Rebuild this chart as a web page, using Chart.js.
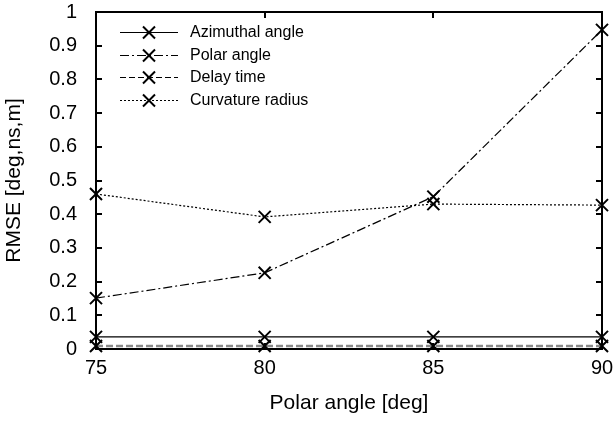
<!DOCTYPE html>
<html>
<head>
<meta charset="utf-8">
<script src="https://cdn.jsdelivr.net/npm/chart.js@4"></script>
<style>
  html, body { margin: 0; padding: 0; background: #fff; }
  #wrap { width: 615px; height: 422px; }
</style>
</head>
<body>
<div id="wrap"><canvas id="grafica"></canvas></div>
<script>
'use strict';

// datos
const polarAngles   = [75, 80, 85, 90];
const azimuthal     = [0.036, 0.036, 0.036, 0.036];
const polar         = [0.151, 0.226, 0.452, 0.947];
const delayTime     = [0.009, 0.009, 0.009, 0.009];
const curvature     = [0.460, 0.392, 0.430, 0.427];
const yTicks        = [0, 0.1, 0.2, 0.3, 0.4, 0.5, 0.6, 0.7, 0.8, 0.9, 1];

const FONT = "'Liberation Sans', Arial, sans-serif";

function serie(label, data, color, width, dash, legendDash) {
  return {
    label,
    data: polarAngles.map((x, i) => ({ x, y: data[i] })),
    borderColor: color,
    borderWidth: width,
    borderDash: dash,
    legendDash,
    pointStyle: 'crossRot',
    pointRadius: 8.5,
    pointBorderColor: '#000',
    pointBorderWidth: 2,
    pointBackgroundColor: '#000',
    tension: 0,
    fill: false,
    clip: false,
  };
}

// caja + marcas hacia dentro, y leyenda con linea y marcador
const marcoPlugin = {
  id: 'marco',
  afterDraw(chart) {
    const { ctx, chartArea: a, scales } = chart;
    ctx.save();
    ctx.strokeStyle = '#000';
    ctx.lineWidth = 2;
    ctx.strokeRect(a.left, a.top, a.right - a.left, a.bottom - a.top);
    ctx.beginPath();
    yTicks.forEach(v => {
      const y = Math.round(scales.y.getPixelForValue(v));
      ctx.moveTo(a.left, y);  ctx.lineTo(a.left + 6, y);
      ctx.moveTo(a.right, y); ctx.lineTo(a.right - 6, y);
    });
    polarAngles.forEach(v => {
      const x = Math.round(scales.x.getPixelForValue(v));
      ctx.moveTo(x, a.top);    ctx.lineTo(x, a.top + 6);
      ctx.moveTo(x, a.bottom); ctx.lineTo(x, a.bottom - 6);
    });
    ctx.stroke();

    // leyenda
    ctx.font = '16px ' + FONT;
    ctx.textBaseline = 'middle';
    chart.data.datasets.forEach((ds, i) => {
      const y = Math.round(32 + i * 22.7) + 0.5;
      ctx.strokeStyle = '#000';
      ctx.lineWidth = 1;
      ctx.setLineDash(ds.legendDash);
      ctx.beginPath();
      ctx.moveTo(120, y); ctx.lineTo(178, y);
      ctx.stroke();
      ctx.setLineDash([]);
      ctx.lineWidth = 2;
      ctx.beginPath();
      ctx.moveTo(143, y - 6); ctx.lineTo(155, y + 6);
      ctx.moveTo(143, y + 6); ctx.lineTo(155, y - 6);
      ctx.stroke();
      ctx.fillStyle = '#000';
      ctx.fillText(ds.label, 190, y);
    });
    ctx.restore();
  }
};

new Chart(document.getElementById('grafica'), {
  type: 'line',
  data: {
    datasets: [
      serie('Azimuthal angle',  azimuthal, '#000', 1.2, [], []),
      serie('Polar angle',      polar,     '#000', 1.2, [9, 3, 2, 3], [9, 3, 2, 3]),
      serie('Delay time',       delayTime, '#8a8a8a', 2.5, [7, 3], [6, 3]),
      serie('Curvature radius', curvature, '#000', 1.2, [2, 2], [2, 2]),
    ]
  },
  options: {
    responsive: true,
    maintainAspectRatio: false,
    animation: false,
    layout: { autoPadding: false, padding: { top: 12, right: 13, left: 0, bottom: 0 } },
    plugins: {
      legend: { display: false },
      tooltip: { enabled: false },
    },
    scales: {
      x: {
        type: 'linear',
        min: 75, max: 90,
        afterBuildTicks: s => { s.ticks = polarAngles.map(v => ({ value: v })); },
        afterFit: s => { s.height = 73; s.paddingLeft = 0; s.paddingRight = 0; },
        grid: { display: false, drawTicks: false },
        border: { display: false },
        ticks: { color: '#000', font: { family: FONT, size: 20 }, padding: 7 },
        title: { display: true, text: 'Polar angle [deg]', color: '#000',
                 font: { family: FONT, size: 21 }, padding: { top: 4, bottom: 6 } },
      },
      y: {
        min: 0, max: 1,
        afterBuildTicks: s => { s.ticks = yTicks.map(v => ({ value: v })); },
        afterFit: s => { s.width = 96; s.paddingTop = 0; s.paddingBottom = 0; },
        grid: { display: false, drawTicks: false },
        border: { display: false },
        ticks: { color: '#000', font: { family: FONT, size: 20 }, padding: 19,
                 callback: v => String(Math.round(v * 10) / 10) },
        title: { display: true, text: 'RMSE [deg,ns,m]', color: '#000',
                 font: { family: FONT, size: 21 }, padding: { top: 2, bottom: 0 } },
      }
    }
  },
  plugins: [marcoPlugin]
});
</script>
</body>
</html>
